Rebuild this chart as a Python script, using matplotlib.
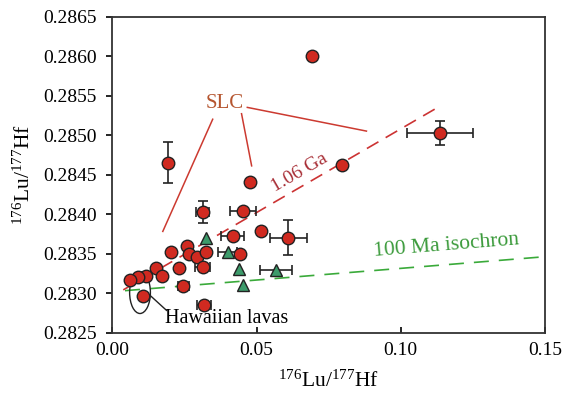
import numpy as np
import matplotlib
matplotlib.use("Agg")
import matplotlib.pyplot as plt
from matplotlib.patches import Ellipse

plt.rcParams['font.family'] = ['Liberation Serif', 'DejaVu Serif']
plt.rcParams['mathtext.fontset'] = 'custom'
plt.rcParams['mathtext.rm'] = 'Liberation Serif'
plt.rcParams['mathtext.it'] = 'Liberation Serif:italic'

# ---- data ----
red_x = [0.0693, 0.0194, 0.0477, 0.0795, 0.1135, 0.0313, 0.0452, 0.0417, 0.0514,
         0.0610, 0.0203, 0.0260, 0.0267, 0.0294, 0.0325, 0.0442, 0.0313, 0.0230,
         0.0151, 0.0172, 0.0117, 0.0088, 0.0062, 0.0105, 0.0246, 0.0318]
red_y = [0.28600, 0.28465, 0.28441, 0.28462, 0.28503, 0.28403, 0.28404, 0.28372, 0.28378,
         0.28370, 0.28352, 0.28359, 0.28349, 0.28346, 0.28352, 0.28349, 0.28333, 0.28332,
         0.28332, 0.28321, 0.28321, 0.28320, 0.28317, 0.28296, 0.28309, 0.28285]
red_xerr = [0, 0.0008, 0, 0, 0.0114, 0.0023, 0.0045, 0.0040, 0,
            0.0064, 0, 0, 0, 0, 0, 0, 0.0026, 0,
            0, 0, 0, 0, 0, 0, 0.0020, 0.0023]
red_yerr = [0, 0.00026, 0, 0, 0.00015, 0.00014, 0, 0, 0,
            0.00022, 0, 0, 0, 0, 0, 0, 0, 0,
            0, 0, 0, 0, 0, 0, 0, 0]

green_x = [0.0325, 0.0400, 0.0440, 0.0567, 0.0454]
green_y = [0.28370, 0.28352, 0.28331, 0.28329, 0.28310]
green_xerr = [0, 0.0033, 0, 0.0056, 0]

ga_line_x = [0.0038, 0.1133]        # 1.06 Ga reference line
ga_line_y = [0.28304, 0.28536]
ma_line_x = [0.0044, 0.1500]        # 100 Ma isochron
ma_line_y = [0.28303, 0.28346]

RED = '#d02a20'
GREEN = '#3d9b6b'

fig = plt.figure(figsize=(5.63, 3.94), dpi=100)
ax = fig.add_axes([0.1995, 0.156, 0.7685, 0.802])

# reference lines
l1, = ax.plot(ga_line_x, ga_line_y, color='#cc3333', lw=1.2, zorder=1)
l1.set_dashes((8, 5))
l2, = ax.plot(ma_line_x, ma_line_y, color='#3aaa3a', lw=1.2, zorder=1)
l2.set_dashes((9, 6))

# error bars (only where present)
for x, y, xe, ye in zip(red_x, red_y, red_xerr, red_yerr):
    if xe or ye:
        ax.errorbar(x, y, xerr=xe if xe else None, yerr=ye if ye else None,
                    fmt='none', ecolor='#222222', elinewidth=1.2, capsize=3.5,
                    capthick=1.2, zorder=2)
for x, y, xe in zip(green_x, green_y, green_xerr):
    if xe:
        ax.errorbar(x, y, xerr=xe, fmt='none', ecolor='#222222', elinewidth=1.2,
                    capsize=3.5, capthick=1.2, zorder=2)

ax.plot(red_x, red_y, 'o', ms=9, mfc=RED, mec='#222222', mew=1.0, zorder=3)
ax.plot(green_x, green_y, '^', ms=9, mfc=GREEN, mec='#222222', mew=1.0, zorder=3)

# SLC label with leader lines
slc_col = '#cc3a30'
ax.text(0.0390, 0.28540, 'SLC', color='#b5552f', fontsize=15, ha='center', va='center')
ax.plot([0.0348, 0.0175], [0.28520, 0.28378], color=slc_col, lw=1.1, zorder=1)
ax.plot([0.0448, 0.0483], [0.28527, 0.28461], color=slc_col, lw=1.1, zorder=1)
ax.plot([0.0468, 0.0881], [0.28535, 0.28505], color=slc_col, lw=1.1, zorder=1)

ax.text(0.0648, 0.28453, '1.06 Ga', color='#a82e36', fontsize=14,
        rotation=30, ha='center', va='center')
ax.text(0.1159, 0.28360, '100 Ma isochron', color='#3a9a3a', fontsize=15.5,
        rotation=4.6, ha='center', va='center')

# Hawaiian lavas
ax.add_patch(Ellipse((0.0096, 0.283006), 0.0072, 0.00053, fill=False,
                     ec='#222222', lw=1.0, zorder=2))
ax.plot([0.0131, 0.0188], [0.28297, 0.28278], color='#222222', lw=1.0)
ax.text(0.0183, 0.28268, 'Hawaiian lavas', fontsize=14.5, ha='left', va='center')

ax.set_xlim(0, 0.15)
ax.set_ylim(0.2825, 0.2865)
ax.set_xticks([0.0, 0.05, 0.10, 0.15])
ax.set_xticklabels(['0.00', '0.05', '0.10', '0.15'])
ax.set_yticks(np.arange(0.2825, 0.28651, 0.0005))
ax.set_yticklabels([f'{v:.4f}' for v in np.arange(0.2825, 0.28651, 0.0005)])
ax.tick_params(axis='x', direction='in', length=4, width=1.2, labelsize=14, pad=7)
ax.tick_params(axis='y', direction='out', length=4, width=1.2, labelsize=14, pad=7)
for s in ax.spines.values():
    s.set_linewidth(1.3)
    s.set_color('#333333')

ax.set_xlabel(r'$^{176}$Lu/$^{177}$Hf', fontsize=15.5, labelpad=8)
ax.set_ylabel(r'$^{176}$Lu/$^{177}$Hf', fontsize=15.5, labelpad=6)

fig.savefig('out.png', dpi=100)
